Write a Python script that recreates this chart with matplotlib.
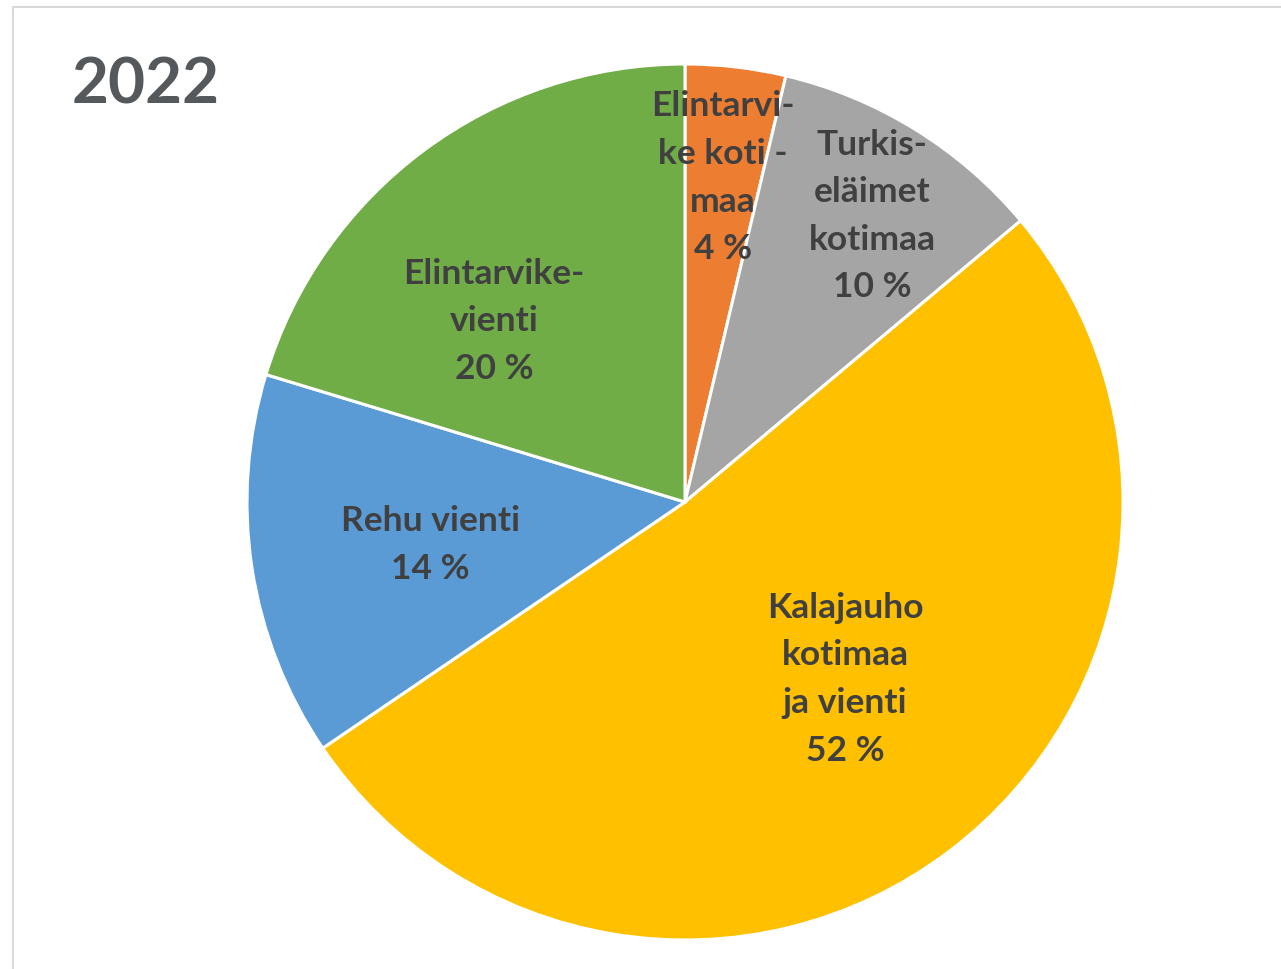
import numpy as np
import matplotlib.pyplot as plt
from matplotlib.patches import Rectangle

# data (clockwise from top)
labels = ['Elintarvi-\nke koti -\nmaa', 'Turkis-\neläimet\nkotimaa', 'Kalajauho\nkotimaa\nja vienti',
          'Rehu vienti', 'Elintarvike-\nvienti']
values = [3.7, 10.2, 51.6, 14.2, 20.3]
colors = ['#ED7D31', '#A5A5A5', '#FFC000', '#5B9BD5', '#70AD47']
title = '2022'

# label placement (fraction of radius, angle tweak in degrees)
label_r = [0.745, 0.78, 0.545, 0.59, 0.60]
label_da = [0, -1.5, 5, 1, 10]

plt.rcParams['font.family'] = ['Lato', 'DejaVu Sans']

W, H = 1281, 969
fig = plt.figure(figsize=(W / 100, H / 100), dpi=100)
ax = fig.add_axes([0, 0, 1, 1])

cx, cy, R = 685, H - 502, 438
wedges, _ = ax.pie(values, colors=colors, startangle=90, counterclock=False,
                   center=(cx, cy), radius=R, frame=True,
                   wedgeprops=dict(edgecolor='white', linewidth=2.2))
ax.set_xlim(0, W)
ax.set_ylim(0, H)
ax.set_aspect('auto')
ax.axis('off')

for w, lab, v, fr, da in zip(wedges, labels, values, label_r, label_da):
    th = np.deg2rad((w.theta1 + w.theta2) / 2 + da)
    x = cx + fr * R * np.cos(th)
    y = cy + fr * R * np.sin(th)
    ax.text(x, y, f'{lab}\n{v:.0f} %', ha='center', va='center', fontsize=25.5,
            fontweight='bold', color='#404040', linespacing=1.6)

fig.text(72 / W, 1 - 104 / H, title, fontsize=46, fontweight='bold', color='#55595C',
         ha='left', va='baseline')

fig.patches.append(Rectangle((13 / W, -0.1), 1.2, 1 - 7 / H + 0.1, transform=fig.transFigure,
                             fill=False, edgecolor='#D9D9D9', linewidth=1.5))

fig.savefig('out.png', dpi=100)
